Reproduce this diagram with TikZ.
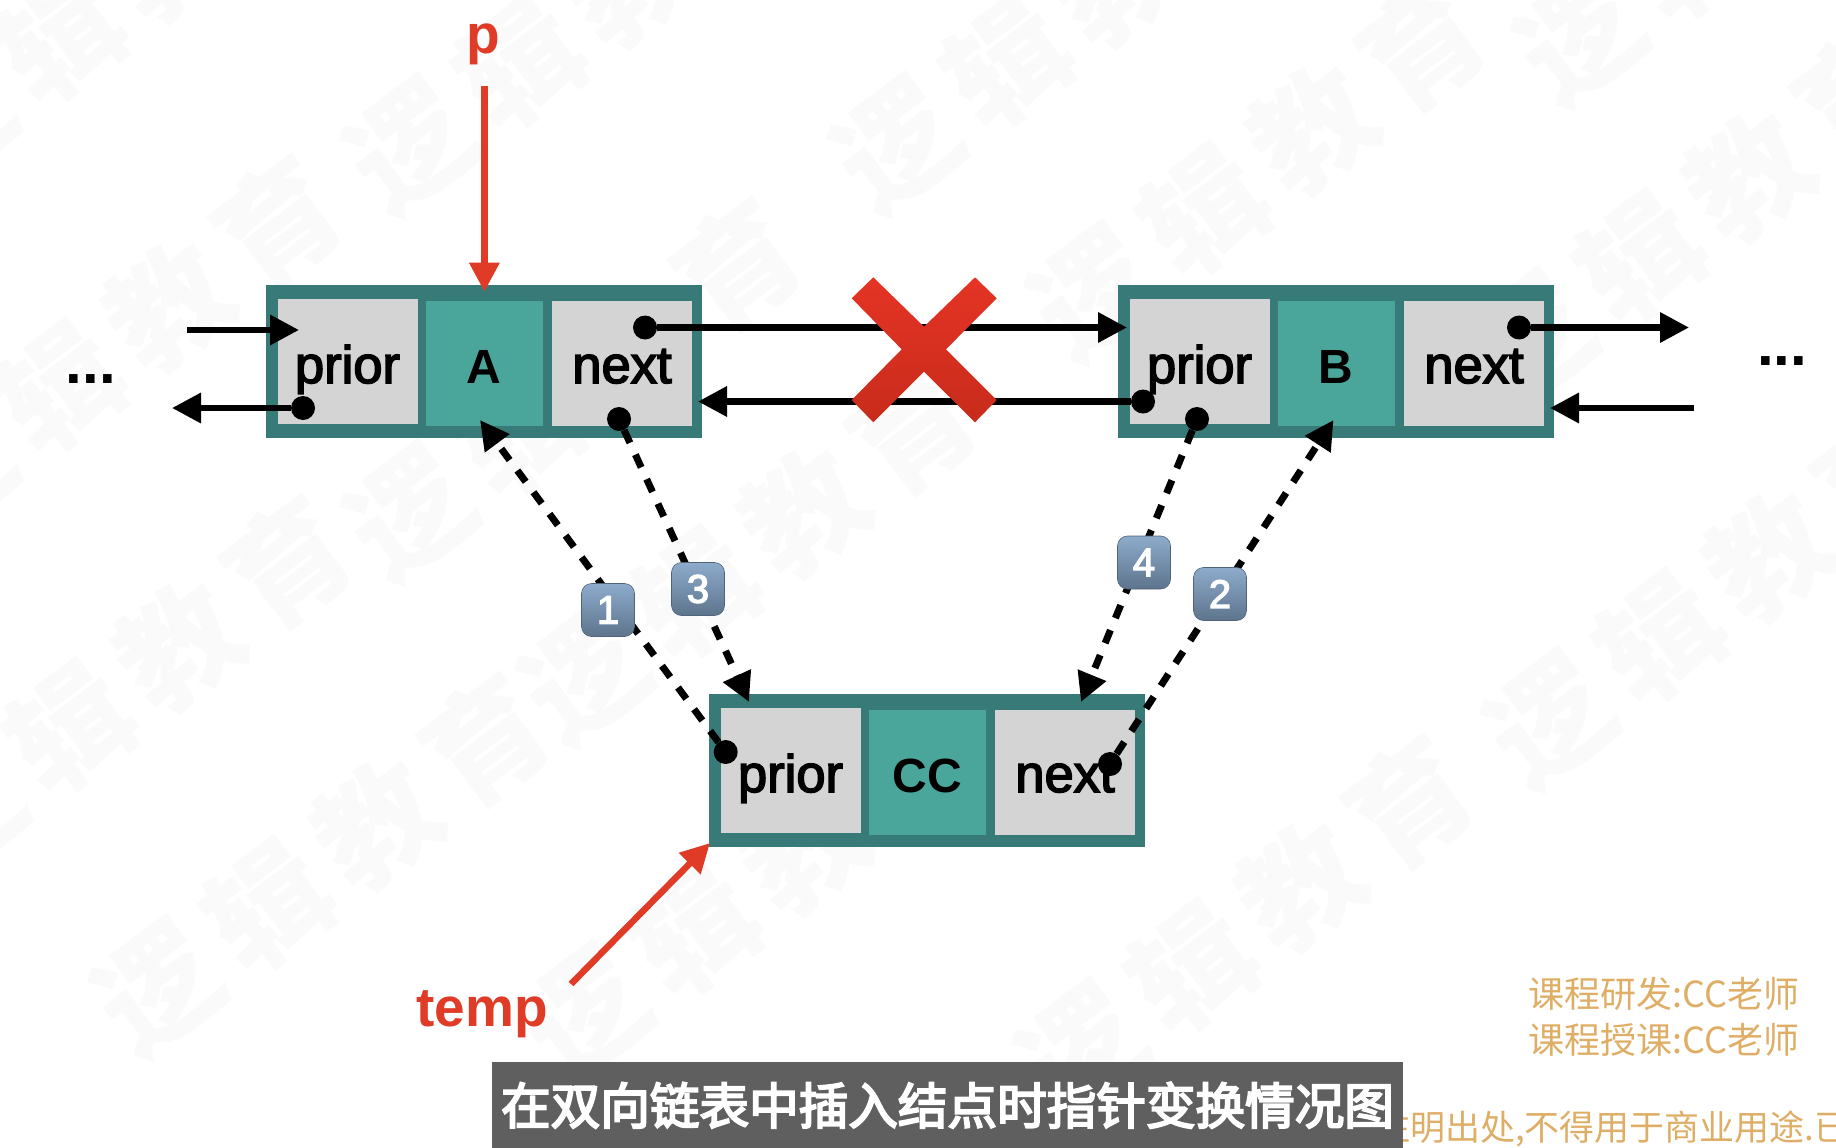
\documentclass[tikz,border=0pt]{standalone}
\usepackage{fontspec}
\setmainfont{Liberation Sans}
\newfontfamily\cellfont[FakeBold=3]{Liberation Sans}
\newfontfamily\cjk{Noto Sans CJK SC}
\newfontfamily\capfont[FakeBold=4]{Noto Sans CJK SC}
\newfontfamily\wmfont[LetterSpace=14]{Noto Sans CJK SC}
\usetikzlibrary{arrows.meta}
\definecolor{boxteal}{HTML}{377A77}
\definecolor{midteal}{HTML}{4AA69B}
\definecolor{cellgray}{HTML}{D4D4D4}
\definecolor{ptrred}{HTML}{DF3B26}
\definecolor{crosstop}{HTML}{E43425}
\definecolor{crossbot}{HTML}{C82B1B}
\definecolor{creditgold}{HTML}{DFAE66}
\definecolor{barfill}{HTML}{5F5F5F}
\definecolor{wmgray}{HTML}{FAFAFA}
\definecolor{BadgeTop}{HTML}{8DABCB}
\definecolor{BadgeBot}{HTML}{5E748D}
\newcommand{\fsz}[1]{\fontsize{#1}{#1}\selectfont}
\tikzset{
  outerbox/.style={fill=boxteal,inner sep=0,anchor=north west,minimum width=436,minimum height=153},
  sidecell/.style={fill=cellgray,inner sep=0,anchor=north west,minimum width=139.5,minimum height=125},
  midcell/.style={fill=midteal,inner sep=0,anchor=north west,minimum width=117.5,minimum height=125},
  celltxt/.style={anchor=base,inner sep=0,font=\cellfont\fsz{52.5}},
  midtxt/.style={anchor=base,inner sep=0,font=\fsz{48}\bfseries},
  ptdot/.style={circle,fill=black,inner sep=0,minimum size=24},
  ptr/.style={line width=6.5pt,-{Triangle[length=29pt,width=29pt]}},
  ptrdash/.style={ptr,line width=7pt,dash pattern=on 14pt off 13pt},
  redptr/.style={ptr,ptrred},
  redtxt/.style={anchor=base,inner sep=0,text=ptrred,font=\fsz{55}\bfseries},
  badge/.style={rounded corners=10pt,top color=BadgeTop,bottom color=BadgeBot,draw=BadgeBot!85!black,line width=.6pt,
    minimum size=53,inner sep=0,text=white,font=\cellfont\fsz{40}},
  credit/.style={anchor=west,inner sep=0,text=creditgold,font=\cjk\fsz{36}},
  wmark/.style={anchor=west,inner sep=0,rotate=37,text=wmgray,font=\wmfont\bfseries\fsz{120}}
}
\begin{document}
\begin{tikzpicture}[x=1pt,y=-1pt]
\useasboundingbox (0,0) rectangle (1836,1148);
\foreach \sx/\sy [count=\i] in {158/988,-50/470,410/146,1094/293,1530/340,585/1013,1082/1050,1550/720,
    585/676,-40/810,410/513,1580/37,897/145,-50/120}
  \node[wmark] (wm\i) at (\sx-48,\sy+36) {逻辑教育};

\foreach \n/\lbl/\ox/\oy in {a/A/266/285,b/B/1118/285,c/CC/709/694}{
  \node[outerbox] (\n box) at (\ox,\oy) {};
  \node[sidecell] (\n prior) at (\ox+12,\oy+14) {};
  \node[midcell] (\n mid) at (\ox+159.5,\oy+16) {};
  \node[sidecell] (\n next) at (\ox+286,\oy+16) {};
  \node[celltxt] (\n priortxt) at (\ox+81.5,\oy+98) {prior};
  \node[midtxt] (\n midtxt) at (\ox+218,\oy+98) {\lbl};
  \node[celltxt] (\n nexttxt) at (\ox+356,\oy+98) {next};
}

\node[ptdot] (dotaprior) at (303,408) {};
\node[ptdot] (dotanext) at (645,327.5) {};
\node[ptdot] (dotalow) at (619,419) {};
\node[ptdot] (dotbprior) at (1143,401.5) {};
\node[ptdot] (dotblow) at (1197,419) {};
\node[ptdot] (dotbnext) at (1519,327.5) {};
\node[ptdot] (dotcprior) at (725.7,752) {};
\node[ptdot] (dotcnext) at (1110,764) {};

\coordinate (inastart) at (187,330);
\coordinate (inaend) at (299,330);
\coordinate (outaend) at (172,408);
\coordinate (tobend) at (1127,327.5);
\coordinate (toaend) at (698,401.5);
\coordinate (outbend) at (1689,327.5);
\coordinate (inbstart) at (1694,408);
\coordinate (inbend) at (1550,408);
\draw[ptr] (inastart) -- (inaend);
\draw[ptr] (dotaprior) -- (outaend);
\draw[ptr] (dotanext) -- (tobend);
\draw[ptr] (dotbprior) -- (toaend);
\draw[ptr] (dotbnext) -- (outbend);
\draw[ptr] (inbstart) -- (inbend);

\shade[top color=crosstop,bottom color=crossbot]
  (873.3,277.3) -- (924,326.7) -- (975,277.3) -- (996.7,298.3) -- (946,349.3) -- (996.7,400)
  -- (975,422.3) -- (924,371.7) -- (873.3,422.3) -- (851.7,400) -- (901.7,349.3) -- (851.7,298.3) -- cycle;

\coordinate (tipa) at (480,420);
\coordinate (tipb) at (1333.5,420);
\coordinate (tipcprior) at (749,702);
\coordinate (tipcnext) at (1081,702);
\draw[ptrdash] (dotcprior) -- (tipa);
\draw[ptrdash] (dotcnext) -- (tipb);
\draw[ptrdash] (dotalow) -- (tipcprior);
\draw[ptrdash] (dotblow) -- (tipcnext);

\foreach \d/\bx/\by in {1/608/610,2/1220/594,3/698/589,4/1144/562.5}
  \node[badge] (badge\d) at (\bx,\by) {\d};

\node[redtxt] (plabel) at (483,54) {p};
\node[redtxt] (templabel) at (482,1026) {temp};
\coordinate (pstart) at (484.4,86);
\coordinate (pend) at (484.4,291.7);
\coordinate (tempstart) at (571,984);
\coordinate (tempend) at (710,843);
\draw[redptr] (pstart) -- (pend);
\draw[redptr] (tempstart) -- (tempend);

\node[anchor=base,inner sep=0,font=\fsz{60}\bfseries] (dotsleft) at (91,383) {...};
\node[anchor=base,inner sep=0,font=\fsz{60}\bfseries] (dotsright) at (1782,365) {...};

\node[credit] (creditdev) at (1528,993.5) {课程研发:CC老师};
\node[credit] (creditteach) at (1528,1040) {课程授课:CC老师};
\node[credit,font=\cjk\fsz{35}] (creditnote) at (1375,1128.5) {注明出处,不得用于商业用途.已};
\node[fill=barfill,inner sep=0,anchor=north west,minimum width=911.4,minimum height=86,text=white,
  font=\capfont\fsz{49.6}] (caption) at (491.6,1062) {在双向链表中插入结点时指针变换情况图};
\end{tikzpicture}
\end{document}
